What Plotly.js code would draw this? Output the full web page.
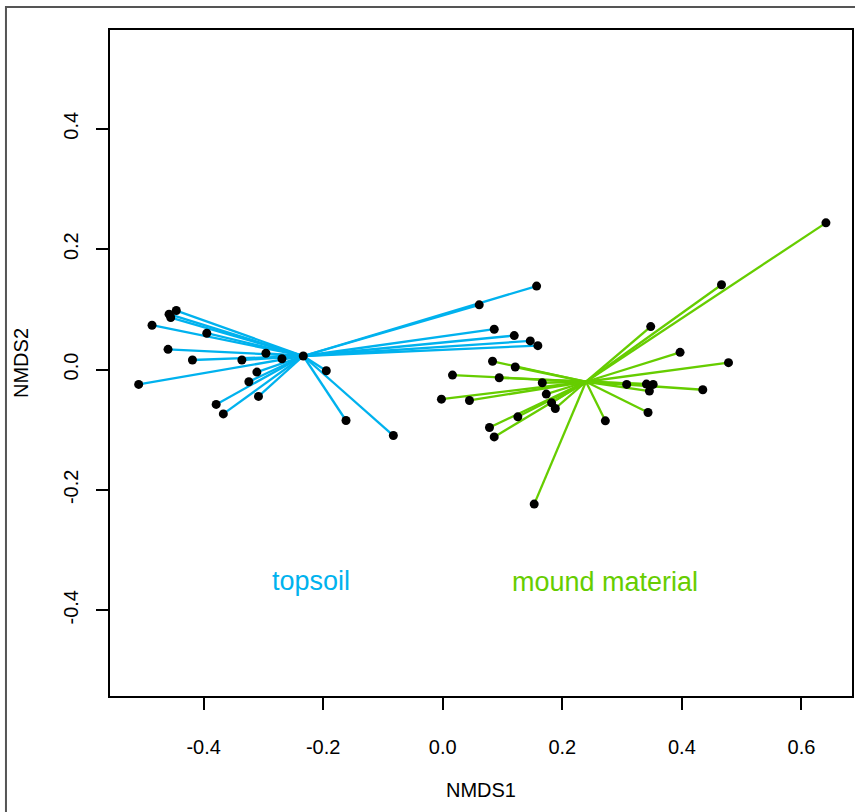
<!DOCTYPE html>
<html>
<head>
<meta charset="utf-8">
<script src="https://cdn.plot.ly/plotly-3.0.1.min.js"></script>
<style>body{margin:0;padding:0;background:#fff;}#chart{width:855px;height:812px;}</style>
</head>
<body>
<div id="chart"></div>
<script>
// Topsoil group
const topsoilX = [-0.4457,-0.4578,-0.4550,-0.4863,-0.3947,-0.4595,-0.2958,-0.2690,-0.4187,-0.3360,-0.5086,-0.3109,-0.3243,-0.3082,-0.3790,-0.3670,-0.1948,-0.1618,-0.0826,0.1570,0.0610,0.0861,0.1196,0.1464,0.1591,-0.2333];
const topsoilY = [0.0980,0.0920,0.0864,0.0736,0.0603,0.0336,0.0270,0.0180,0.0158,0.0158,-0.0247,-0.0042,-0.0203,-0.0447,-0.0580,-0.0737,-0.0020,-0.0847,-0.1097,0.1387,0.1075,0.0670,0.0564,0.0475,0.0397,0.0225];
const topsoilCentroid = [-0.2333, 0.0225];

// Mound material group
const moundX = [0.0833,0.1213,0.0163,0.0945,0.1665,0.1732,-0.0022,0.0447,0.1821,0.1883,0.1256,0.0782,0.0861,0.1530,0.6410,0.4663,0.3479,0.3970,0.4780,0.3077,0.3407,0.3520,0.3457,0.4350,0.3434,0.2720];
const moundY = [0.0137,0.0042,-0.0092,-0.0137,-0.0220,-0.0408,-0.0492,-0.0514,-0.0553,-0.0647,-0.0786,-0.0964,-0.1120,-0.2236,0.2437,0.1408,0.0714,0.0286,0.0114,-0.0247,-0.0242,-0.0247,-0.0358,-0.0336,-0.0714,-0.0853];
const moundCentroid = [0.2396, -0.0203];

const groupLabels = ["topsoil", "mound material"];
const groupLabelPos = [[-0.2200, -0.3510], [0.2709, -0.3530]];
const xTicks = [-0.4, -0.2, 0.0, 0.2, 0.4, 0.6];
const yTicks = [-0.4, -0.2, 0.0, 0.2, 0.4];
const xTickText = ["-0.4", "-0.2", "0.0", "0.2", "0.4", "0.6"];
const yTickText = ["-0.4", "-0.2", "0.0", "0.2", "0.4"];

const blue = "#00B2EE";
const green = "#66CD00";

function spider(xs, ys, c) {
  const sx = [], sy = [];
  for (let i = 0; i < xs.length; i++) {
    sx.push(c[0], xs[i], null);
    sy.push(c[1], ys[i], null);
  }
  return {sx, sy};
}
const sT = spider(topsoilX, topsoilY, topsoilCentroid);
const sM = spider(moundX, moundY, moundCentroid);

const traces = [
  {x: sT.sx, y: sT.sy, mode: "lines", type: "scatter", line: {color: blue, width: 2.3}, hoverinfo: "skip", showlegend: false},
  {x: sM.sx, y: sM.sy, mode: "lines", type: "scatter", line: {color: green, width: 2.3}, hoverinfo: "skip", showlegend: false},
  {x: topsoilX.concat(moundX), y: topsoilY.concat(moundY), mode: "markers", type: "scatter",
   marker: {color: "black", size: 9}, showlegend: false}
];

const fontFam = "Liberation Sans, Arial, sans-serif";
const layout = {
  width: 855, height: 812,
  margin: {l: 110, r: 3, t: 30, b: 116},
  paper_bgcolor: "white", plot_bgcolor: "white",
  showlegend: false,
  font: {family: fontFam, color: "black", size: 20},
  xaxis: {
    range: [-0.5566, 0.6846], tickvals: xTicks, ticktext: xTickText,
    showgrid: false, zeroline: false, showline: true, mirror: true, linecolor: "black", linewidth: 2,
    ticks: "outside", ticklen: 12, tickwidth: 2, tickcolor: "black",
    tickfont: {family: fontFam, size: 20, color: "black"}, ticklabelstandoff: 20,
    title: {text: "NMDS1", font: {family: fontFam, size: 20, color: "black"}, standoff: 26},
    automargin: false
  },
  yaxis: {
    range: [-0.5425, 0.5642], tickvals: yTicks, ticktext: yTickText, tickangle: -90,
    showgrid: false, zeroline: false, showline: true, mirror: true, linecolor: "black", linewidth: 2,
    ticks: "outside", ticklen: 12, tickwidth: 2, tickcolor: "black",
    tickfont: {family: fontFam, size: 20, color: "black"}, ticklabelstandoff: 10,
    title: {text: "NMDS2", font: {family: fontFam, size: 20, color: "black"}, standoff: 26},
    automargin: false
  },
  annotations: groupLabels.map((t, i) => ({
    x: groupLabelPos[i][0], y: groupLabelPos[i][1], xref: "x", yref: "y",
    text: t, showarrow: false, xanchor: "center", yanchor: "middle",
    font: {family: fontFam, size: 27, color: i === 0 ? blue : green}
  })),
  shapes: [
    {type: "rect", xref: "paper", yref: "paper", x0: -0.1402, x1: 1.2, y0: -0.4, y1: 1.0345,
     line: {color: "#555555", width: 2}, fillcolor: "rgba(0,0,0,0)", layer: "below"}
  ]
};

Plotly.newPlot("chart", traces, layout, {displayModeBar: false, staticPlot: true});
</script>
</body>
</html>
